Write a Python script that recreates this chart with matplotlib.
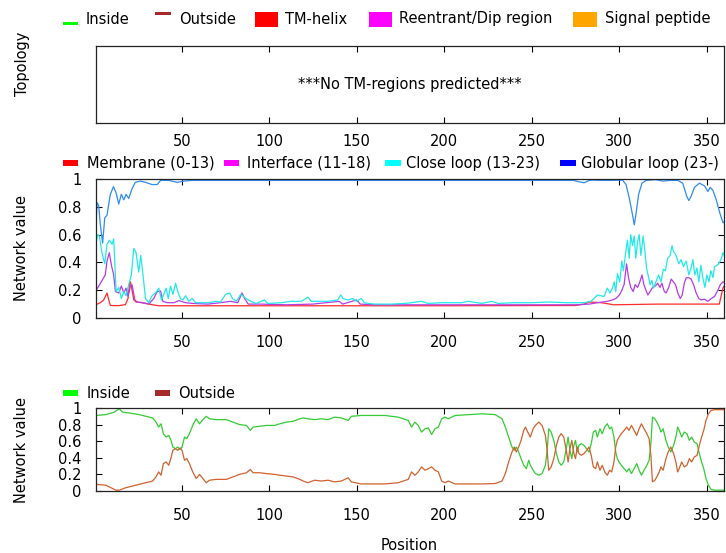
import matplotlib
matplotlib.use("Agg")
import matplotlib.pyplot as plt
from matplotlib.patches import Rectangle

plt.rcParams["font.family"] = ["DejaVu Sans"]
plt.rcParams["font.size"] = 10.5

W, H = 726, 553

# ---- data ----
xticks = [50, 100, 150, 200, 250, 300, 350]
yticks_mid = [0, 0.2, 0.4, 0.6, 0.8, 1]
ytick_labels = ["0", "0.2", "0.4", "0.6", "0.8", "1"]

glob_pos = [1, 1.6, 2.5, 3.5, 4.8, 6, 7.3, 9.2, 11, 12.5, 14, 15.5, 16.9, 18.2, 19.7,
            21.6, 23.5, 26.4, 29.3, 33, 36, 37.9, 42.6, 47.4, 51.2, 56, 100, 150, 200,
            250, 274, 277, 280, 283, 285, 290, 296, 302, 304, 305.8, 307.3, 308.7,
            309.6, 311.2, 313.1, 315.4, 321, 325, 329, 333.6, 336.4, 338.7, 339.9,
            341.2, 343.1, 346, 348.9, 350.8, 352.1, 353.6, 355.6, 357.5, 359.4, 361]
glob_val = [0.67, 0.83, 0.81, 0.67, 0.54, 0.72, 0.74, 0.89, 0.945, 0.90, 0.82, 0.89,
            0.85, 0.89, 0.86, 0.93, 0.976, 0.985, 0.976, 0.96, 0.96, 0.99, 0.99, 0.976,
            0.985, 0.99, 0.99, 0.99, 0.99, 0.99, 0.99, 0.98, 0.973, 0.99, 0.992, 0.99,
            0.99, 0.992, 0.96, 0.865, 0.77, 0.67, 0.74, 0.89, 0.97, 0.99, 0.995, 0.985,
            0.99, 0.99, 0.97, 0.876, 0.845, 0.876, 0.94, 0.97, 0.95, 0.91, 0.94, 0.92,
            0.85, 0.76, 0.685, 0.70]

close_pos = [1, 1.8, 2.9, 4.4, 6, 7.3, 8.6, 10.2, 11.1, 12.5, 14, 15.5, 16.9, 18.2,
             19.7, 21.2, 22.6, 23.9, 25.4, 26.6, 27.7, 29.3, 31.2, 33, 35, 36.9, 38.4,
             39.8, 41.1, 42.3, 43.6, 45, 46.5, 48, 49.3, 50.7, 52.2, 54, 56, 57.9,
             61.7, 65.6, 69.4, 72.2, 75.1, 77.4, 79, 81.2, 83.7, 86.8, 89.6, 92.5,
             97.3, 99.2, 106.9, 112.6, 118.4, 122.2, 124, 133.6, 139.3, 140.9, 142.2,
             145, 147.9, 149.8, 152.6, 154.5, 156.5, 160.3, 169.9, 177.5, 181.3, 187,
             190.9, 198.5, 210, 213.8, 221.5, 227.2, 231, 240, 250, 260, 270, 280,
             283.8, 285.7, 287.6, 289.5, 291.4, 293.3, 294.8,
             296.2, 297.2, 298.1, 299.1, 300.4, 301.6, 302.5, 303.9, 304.8, 305.8,
             306.7, 307.7, 308.7, 309.6, 310.6, 311.5, 312.5, 313.8, 314.8, 315.7,
             316.9, 317.8, 318.8, 319.7, 321.1, 322.6, 324, 325.3, 326.5, 327.8, 329.2,
             330.3, 331.1, 332.6, 334.2, 335.5, 336.8, 338.4, 339.9, 341.2, 342.2,
             343.3, 344.5, 345.6, 346.8, 347.9, 349.1, 350.2, 351.4, 352.5, 353.7,
             354.6, 356, 357.1, 358.5, 359.4, 360.6, 361.7]
close_val = [0.53, 0.60, 0.59, 0.47, 0.39, 0.53, 0.56, 0.53, 0.57, 0.19, 0.22, 0.14,
             0.19, 0.16, 0.24, 0.31, 0.50, 0.47, 0.33, 0.45, 0.33, 0.14, 0.11, 0.16,
             0.18, 0.215, 0.13, 0.17, 0.215, 0.14, 0.23, 0.17, 0.25, 0.18, 0.14, 0.13,
             0.16, 0.12, 0.14, 0.11, 0.11, 0.11, 0.12, 0.115, 0.17, 0.18, 0.14, 0.12,
             0.17, 0.14, 0.12, 0.105, 0.13, 0.105, 0.11, 0.12, 0.12, 0.15, 0.12, 0.12,
             0.13, 0.166, 0.14, 0.13, 0.14, 0.12, 0.14, 0.11, 0.105, 0.10, 0.10, 0.105,
             0.11, 0.12, 0.105, 0.11, 0.11, 0.12, 0.105, 0.12, 0.105, 0.11, 0.11,
             0.115, 0.11, 0.11, 0.12, 0.14, 0.166, 0.16, 0.155, 0.215, 0.18,
             0.215, 0.26, 0.19, 0.32, 0.26, 0.41, 0.34, 0.48, 0.56, 0.43, 0.60, 0.52,
             0.59, 0.43, 0.55, 0.60, 0.45, 0.59, 0.48, 0.36, 0.29, 0.24, 0.27, 0.215,
             0.26, 0.31, 0.26, 0.35, 0.34, 0.43, 0.45, 0.52, 0.48, 0.45, 0.39, 0.42,
             0.37, 0.41, 0.31, 0.36, 0.42, 0.31, 0.36, 0.26, 0.38, 0.29, 0.22, 0.31,
             0.26, 0.34, 0.29, 0.37, 0.38, 0.39, 0.43, 0.47, 0.44, 0.47]

iface_pos = [1, 1.6, 3.5, 5.4, 6.3, 7.3, 8.6, 9.8, 11.1, 12.1, 14, 15.5, 16.9, 18.2,
             19.3, 20.7, 21.6, 23.2, 24.5, 27.4, 31.2, 34, 36, 37.9, 39.2, 41.7, 45.5,
             48.4, 52.2, 56, 65, 72, 78, 82, 84.5, 86, 88, 95, 110, 125, 140, 142,
             150, 152, 160, 180, 200, 220, 240, 260, 275, 283, 287.6, 293.3, 296.2,
             298.1, 300.2, 301.6, 302.9, 304.3, 305.4, 306.7, 308.1, 309.2, 310.6,
             311.9, 313.1, 314.2, 315.4, 316.5, 317.7, 319.2, 320.7, 322.1, 323.4,
             324.5, 325.9, 326.9, 328.4, 329.8, 331.1, 332.3, 333.6, 335, 336.1,
             337.3, 338.4, 339.9, 341.2, 342.6, 344.1, 345.6, 347, 348.9, 350.8,
             352.7, 354.6, 356.5, 357.9, 359.4, 360.9]
iface_val = [0.20, 0.21, 0.25, 0.29, 0.31, 0.41, 0.47, 0.38, 0.31, 0.19, 0.18, 0.23,
             0.18, 0.215, 0.155, 0.23, 0.24, 0.13, 0.115, 0.11, 0.10, 0.14, 0.19,
             0.195, 0.12, 0.11, 0.11, 0.125, 0.11, 0.105, 0.10, 0.11, 0.12, 0.11, 0.18,
             0.14, 0.10, 0.10, 0.095, 0.10, 0.12, 0.10, 0.13, 0.10, 0.095, 0.095,
             0.095, 0.095, 0.095, 0.095, 0.095, 0.10, 0.11, 0.12, 0.13, 0.14, 0.165,
             0.20, 0.24, 0.39, 0.29, 0.22, 0.19, 0.24, 0.22, 0.26, 0.31, 0.24, 0.20,
             0.165, 0.19, 0.22, 0.23, 0.25, 0.22, 0.25, 0.19, 0.18, 0.22, 0.28, 0.26,
             0.24, 0.18, 0.14, 0.165, 0.25, 0.29, 0.29, 0.28, 0.24, 0.18, 0.14, 0.13,
             0.135, 0.12, 0.14, 0.155, 0.20, 0.24, 0.26, 0.25]

memb_pos = [1, 3.5, 5.4, 7.3, 8.3, 9.2, 14, 17.8, 19.3, 20.1, 20.7, 21.6, 22.6, 23.9,
            27.4, 33, 36.9, 100, 200, 275, 280, 283, 290, 297, 322, 355, 357.3, 358.3,
            359.4, 361]
memb_val = [0.096, 0.11, 0.13, 0.18, 0.13, 0.09, 0.089, 0.096, 0.14, 0.24, 0.26, 0.20,
            0.13, 0.115, 0.11, 0.096, 0.088, 0.088, 0.088, 0.09, 0.10, 0.115, 0.11,
            0.095, 0.10, 0.10, 0.10, 0.155, 0.215, 0.25]

in_pos = [1, 6.6, 11.4, 14.3, 16.2, 20, 25.7, 29.6, 33.4, 35.3, 36.8, 38.2, 39.5, 41.1,
          42.6, 43.9, 44.9, 46.4, 47.7, 49.1, 50.2, 51.6, 52.9, 54.4, 56.3, 58.3, 60.2,
          61.7, 64, 65.9, 69.7, 75.5, 79.3, 83.1, 87, 89.2, 90.8, 94.6, 98.4, 103.2,
          106.1, 109.9, 113.7, 117.5, 119.4, 122.1, 126, 129.8, 133.6, 137.4, 141.3,
          145.1, 147, 152.7, 166.1, 173.8, 179.5, 181.4, 183.3, 185.2, 187.1, 189.1,
          191, 192.9, 194.8, 196.7, 198.6, 200.5, 202.4, 206.3, 213.9, 221.6, 229.2,
          233.1, 235, 236.9, 238.8, 240.1, 241.3, 242.6, 244, 245.5, 247, 248.4,
          249.3, 250.9, 252.2, 254.1, 256, 257.9, 258.9, 259.8, 261.2, 262.7, 264.2,
          265.6, 266.9, 268.4, 270, 270.9, 271.9, 273, 274.2, 275.1, 276.1, 277.1,
          278.4, 279.9, 281.5, 282.8, 284.1, 285.3, 286.6, 287.6, 289.1, 290.4,
          291.8, 293.3, 294.6, 295.8, 297.1, 298.1, 299, 300, 301.3, 302.9, 304.4,
          305.7, 307.1, 308.6, 310.1, 311.5, 312.8, 314.3, 315.9, 317.2, 318.2,
          319.1, 320.5, 321.6, 323, 323.9, 325.2, 326.8, 328.1, 329.6, 331.2, 332.5,
          333.5, 334.4, 335.8, 337.3, 338.8, 340.2, 341.5, 343, 344.6, 345.9, 347.2,
          348.4, 349.7, 351.1, 352.6, 354.5, 361]
in_val = [0.91, 0.92, 0.95, 0.99, 0.95, 0.94, 0.92, 0.90, 0.88, 0.83, 0.77, 0.81, 0.69,
          0.65, 0.67, 0.61, 0.53, 0.51, 0.53, 0.50, 0.53, 0.65, 0.63, 0.69, 0.79, 0.87,
          0.81, 0.85, 0.90, 0.87, 0.86, 0.86, 0.83, 0.80, 0.79, 0.73, 0.77, 0.78, 0.79,
          0.79, 0.81, 0.83, 0.84, 0.87, 0.88, 0.87, 0.86, 0.87, 0.86, 0.89, 0.88, 0.85,
          0.90, 0.91, 0.91, 0.89, 0.85, 0.77, 0.83, 0.79, 0.71, 0.75, 0.76, 0.68, 0.75,
          0.77, 0.87, 0.89, 0.87, 0.91, 0.92, 0.93, 0.92, 0.87, 0.77, 0.65, 0.53, 0.49,
          0.53, 0.47, 0.39, 0.31, 0.27, 0.37, 0.31, 0.25, 0.21, 0.19, 0.21, 0.31, 0.49,
          0.75, 0.71, 0.61, 0.45, 0.35, 0.31, 0.35, 0.53, 0.65, 0.49, 0.39, 0.55, 0.61,
          0.47, 0.55, 0.57, 0.55, 0.51, 0.47, 0.57, 0.71, 0.73, 0.65, 0.75, 0.69, 0.77,
          0.81, 0.75, 0.77, 0.65, 0.47, 0.39, 0.35, 0.31, 0.27, 0.23, 0.27, 0.21, 0.27,
          0.33, 0.25, 0.19, 0.25, 0.31, 0.37, 0.57, 0.89, 0.87, 0.83, 0.77, 0.71, 0.75,
          0.61, 0.53, 0.47, 0.55, 0.65, 0.77, 0.73, 0.65, 0.71, 0.69, 0.61, 0.65, 0.59,
          0.57, 0.45, 0.35, 0.27, 0.15, 0.07, 0.02, 0.01, 0.01]

out_pos = [1, 6.6, 12.4, 14.3, 18.1, 23.8, 29.6, 33.4, 35.3, 36.8, 38.2, 39.5, 41.1,
           42.6, 43.9, 44.9, 46.4, 47.7, 49.1, 50.2, 51.6, 52.9, 54.4, 56.3, 58.3,
           60.2, 61.7, 64, 65.9, 69.7, 75.5, 79.3, 83.1, 87, 89.2, 90.8, 94.6, 98.4,
           103.2, 106.1, 109.9, 113.7, 117.5, 119.4, 122.1, 126, 129.8, 133.6, 137.4,
           141.3, 145.1, 147, 152.7, 166.1, 173.8, 179.5, 181.4, 183.3, 185.2, 187.1,
           189.1, 191, 192.9, 194.8, 196.7, 198.6, 200.5, 202.4, 206.3, 213.9, 221.6,
           229.2, 233.1, 235, 236.9, 238.8, 240.1, 241.3, 242.6, 244, 245.5, 246.5,
           247.8, 249.3, 250.9, 252.2, 254.1, 256, 257.9, 258.9, 259.8, 261.2, 262.7,
           264.2, 265.6, 266.9, 268.4, 270, 270.9, 271.9, 273, 274.2, 275.1, 276.1,
           277.1, 278.4, 279.9, 281.5, 282.8, 284.1, 285.3, 286.6, 287.6, 289.1,
           290.4, 291.8, 293.3, 294.6, 295.8, 297.1, 298.1, 299, 300, 301.3, 302.9,
           304.4, 305.7, 307.1, 308.6, 310.1, 311.5, 312.8, 314.3, 315.9, 317.2,
           318.2, 319.1, 320.5, 321.6, 323, 323.9, 325.2, 326.8, 328.1, 329.6, 331.2,
           332.5, 333.5, 334.4, 335.8, 337.3, 338.8, 340.2, 341.5, 343, 344.6, 345.9,
           347.2, 348.4, 349.7, 351.1, 352.6, 354.5, 361]
out_val = [0.08, 0.07, 0.01, 0.01, 0.04, 0.07, 0.10, 0.12, 0.17, 0.23, 0.19, 0.33, 0.35,
           0.31, 0.40, 0.49, 0.51, 0.49, 0.52, 0.49, 0.37, 0.39, 0.33, 0.23, 0.15, 0.20,
           0.16, 0.10, 0.13, 0.14, 0.14, 0.17, 0.20, 0.22, 0.26, 0.22, 0.22, 0.21, 0.20,
           0.19, 0.18, 0.17, 0.14, 0.12, 0.10, 0.13, 0.12, 0.13, 0.11, 0.12, 0.16, 0.11,
           0.085, 0.085, 0.10, 0.14, 0.23, 0.19, 0.23, 0.29, 0.25, 0.27, 0.29, 0.25,
           0.23, 0.12, 0.10, 0.12, 0.085, 0.085, 0.085, 0.09, 0.12, 0.21, 0.35, 0.47,
           0.53, 0.47, 0.53, 0.61, 0.73, 0.77, 0.71, 0.65, 0.75, 0.79, 0.83, 0.79, 0.67,
           0.49, 0.25, 0.29, 0.39, 0.55, 0.65, 0.69, 0.65, 0.47, 0.35, 0.51, 0.61, 0.45,
           0.39, 0.53, 0.45, 0.43, 0.45, 0.49, 0.53, 0.43, 0.29, 0.27, 0.35, 0.25, 0.31,
           0.23, 0.19, 0.25, 0.23, 0.35, 0.53, 0.61, 0.65, 0.69, 0.73, 0.77, 0.73, 0.79,
           0.73, 0.67, 0.75, 0.81, 0.75, 0.69, 0.63, 0.43, 0.11, 0.13, 0.17, 0.23, 0.29,
           0.25, 0.39, 0.47, 0.53, 0.45, 0.35, 0.23, 0.27, 0.35, 0.29, 0.31, 0.39, 0.35,
           0.41, 0.43, 0.55, 0.65, 0.73, 0.85, 0.93, 0.97, 0.98, 0.98]

# ---- colours ----
C_GLOB = "#2f8cf0"
C_CLOSE = "#22e8e8"
C_IFACE = "#b43ce6"
C_MEMB = "#ff2a2a"
C_IN = "#33cc33"
C_OUT = "#d0622e"


def px_box(x0, y0, x1, y1):
    """axes rect in figure fraction from pixel corners (y from top)"""
    return [x0 / W, 1 - y1 / H, (x1 - x0) / W, (y1 - y0) / H]


def style_axes(ax, pad_x):
    for s in ax.spines.values():
        s.set_linewidth(0.9)
        s.set_color("#222222")
    ax.set_xlim(1, 360)
    ax.set_xticks(xticks)
    ax.tick_params(axis="x", direction="in", top=True, bottom=True, length=4.5,
                   width=0.8, pad=pad_x, labelsize=10.5)


fig = plt.figure(figsize=(W / 100, H / 100), dpi=100)

# Topology panel
ax0 = fig.add_axes(px_box(96, 46, 724, 123))
style_axes(ax0, 8)
ax0.set_yticks([])
ax0.set_ylim(0, 1)
ax0.text(0.5, 0.5, "***No TM-regions predicted***", transform=ax0.transAxes,
         ha="center", va="center", fontsize=10.5)

# Network values
ax1 = fig.add_axes(px_box(96, 179, 724, 318))
style_axes(ax1, 12)
ax1.plot(memb_pos, memb_val, color=C_MEMB, lw=0.9)
ax1.plot(iface_pos, iface_val, color=C_IFACE, lw=0.9)
ax1.plot(close_pos, close_val, color=C_CLOSE, lw=0.9)
ax1.plot(glob_pos, glob_val, color=C_GLOB, lw=0.9)
ax1.set_ylim(0, 1)
ax1.set_yticks(yticks_mid)
ax1.set_yticklabels(ytick_labels)
ax1.tick_params(axis="y", direction="in", left=True, right=True, length=4.5,
                width=0.8, pad=10.5, labelsize=10.5)

# Inside / outside
ax2 = fig.add_axes(px_box(96, 408, 724, 491))
style_axes(ax2, 12)
ax2.plot(in_pos, in_val, color=C_IN, lw=0.9)
ax2.plot(out_pos, out_val, color=C_OUT, lw=0.9)
ax2.set_ylim(0, 1)
ax2.set_yticks(yticks_mid)
ax2.set_yticklabels(ytick_labels)
ax2.tick_params(axis="y", direction="in", left=True, right=True, length=4.5,
                width=0.8, pad=10.5, labelsize=10.5)


# ---- labels and legends drawn in pixel coords ----
def ftext(x, y, s, **kw):
    fig.text(x / W, 1 - y / H, s, fontsize=10.5, **kw)


def fbox(x0, y0, x1, y1, color):
    fig.add_artist(Rectangle((x0 / W, 1 - y1 / H), (x1 - x0) / W, (y1 - y0) / H,
                             transform=fig.transFigure, color=color, lw=0))


ftext(22, 64, "Topology", rotation=90, ha="center", va="center")
ftext(22, 248, "Network value", rotation=90, ha="center", va="center")
ftext(22, 450, "Network value", rotation=90, ha="center", va="center")
ftext(409, 545, "Position", ha="center", va="center")

# topology legend
ty = 19
fbox(63, 22, 78, 25, "#00ff00")
ftext(86, ty, "Inside", va="center")
fbox(155, 12, 171, 15, "#a52a2a")
ftext(179, ty, "Outside", va="center")
fbox(255, 12, 278, 27, "#ff0000")
ftext(285, ty, "TM-helix", va="center")
fbox(369, 12, 392, 27, "#ff00ff")
ftext(399, ty, "Reentrant/Dip region", va="center")
fbox(573, 12, 597, 27, "#ffa500")
ftext(605, ty, "Signal peptide", va="center")

# network legend
my = 163
fbox(63, 160, 78, 166, "#ff0000")
ftext(87, my, "Membrane (0-13)", va="center")
fbox(224, 160, 239, 166, "#ff00ff")
ftext(247, my, "Interface (11-18)", va="center")
fbox(385, 160, 401, 166, "#00ffff")
ftext(406, my, "Close loop (13-23)", va="center")
fbox(560, 160, 576, 166, "#0000ff")
ftext(581, my, "Globular loop (23-)", va="center")

# inside/outside legend
by = 393
fbox(63, 390, 78, 396, "#00ff00")
ftext(87, by, "Inside", va="center")
fbox(155, 390, 170, 396, "#a52a2a")
ftext(178, by, "Outside", va="center")

fig.savefig("out.png", dpi=100)
